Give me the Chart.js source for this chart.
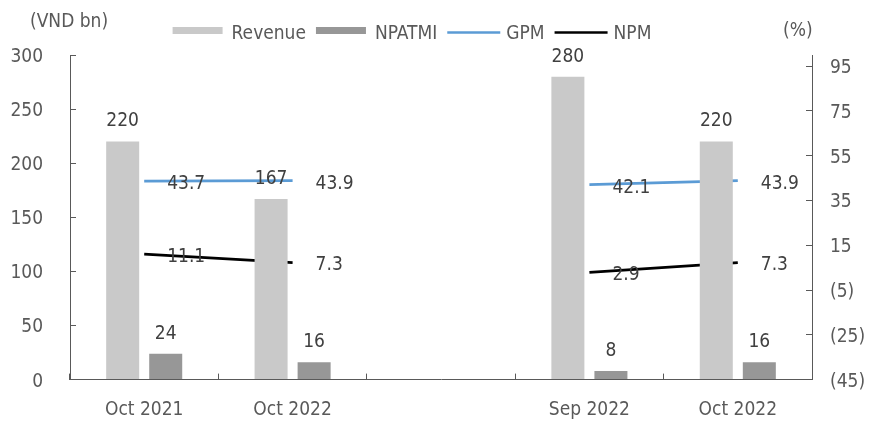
<!DOCTYPE html>
<html>
<head>
<meta charset="utf-8">
<script src="https://cdn.jsdelivr.net/npm/chart.js@4.4.1/dist/chart.umd.min.js"></script>
<style>
  html, body { margin: 0; padding: 0; background: #fff; }
</style>
</head>
<body>
<canvas id="marginChart" width="878" height="424"></canvas>
<script>
// data
const categories = ['Oct 2021', 'Oct 2022', '', 'Sep 2022', 'Oct 2022'];
const revenue = [220, 167, null, 280, 220];
const npatmi = [24, 16, null, 8, 16];
const gpm = [43.7, 43.9, null, 42.1, 43.9];
const npm = [11.1, 7.3, null, 2.9, 7.3];
const leftTicks = [0, 50, 100, 150, 200, 250, 300];
const rightTicks = [-45, -25, -5, 15, 35, 55, 75, 95];
const leftTitle = '(VND bn)';
const rightTitle = '(%)';

const FONT = "'DejaVu Sans Condensed', 'DejaVu Sans', sans-serif";
const AXIS_COLOR = '#595959';

// value labels above bars and to the right of line points
const valueLabels = {
    id: 'valueLabels',
    afterDatasetsDraw(chart) {
        const ctx = chart.ctx;
        ctx.save();
        ctx.font = '19px ' + FONT;
        ctx.fillStyle = '#404040';
        ctx.textBaseline = 'middle';
        chart.data.datasets.forEach((ds, i) => {
            const meta = chart.getDatasetMeta(i);
            meta.data.forEach((el, j) => {
                const v = ds.data[j];
                if (v === null || v === undefined) return;
                if (ds.type === 'line') {
                    ctx.textAlign = 'left';
                    ctx.fillText(v.toFixed(1), el.x + 23, el.y + 3);
                } else {
                    ctx.textAlign = 'center';
                    ctx.fillText(String(v), el.x, el.y - 20);
                }
            });
        });
        ctx.restore();
    }
};

// legend row + axis titles
const legendRow = {
    id: 'legendRow',
    afterDraw(chart) {
        const ctx = chart.ctx;
        ctx.save();
        ctx.font = '19px ' + FONT;
        ctx.textBaseline = 'middle';
        ctx.textAlign = 'left';
        const items = chart.data.datasets.map(ds => ({
            text: ds.label,
            line: ds.type === 'line',
            color: ds.type === 'line' ? ds.borderColor : ds.backgroundColor
        }));
        const swatch = 50, gapText = 9, gapItem = 10;
        let total = 0;
        items.forEach((it, k) => {
            it.w = ctx.measureText(it.text).width;
            total += swatch + gapText + it.w + (k ? gapItem : 0);
        });
        let x = 412 - total / 2;
        const y = 34;
        items.forEach(it => {
            if (it.line) {
                ctx.strokeStyle = it.color;
                ctx.lineWidth = 2.5;
                ctx.beginPath();
                ctx.moveTo(x, y - 1.5);
                ctx.lineTo(x + swatch + 3, y - 1.5);
                ctx.stroke();
            } else {
                ctx.fillStyle = it.color;
                ctx.fillRect(x, y - 7, swatch, 7);
            }
            x += swatch + gapText;
            ctx.fillStyle = AXIS_COLOR;
            ctx.fillText(it.text, x, y);
            x += it.w + gapItem;
        });
        ctx.fillText(leftTitle, 30, 22);
        ctx.fillText(rightTitle, 783, 31);
        ctx.restore();
    }
};

const tickFont = { family: FONT, size: 19 };

const config = {
    type: 'bar',
    data: {
        labels: categories,
        datasets: [
            { type: 'bar', label: 'Revenue', data: revenue, backgroundColor: '#C9C9C9', yAxisID: 'y',
              categoryPercentage: 0.58, barPercentage: 0.767 },
            { type: 'bar', label: 'NPATMI', data: npatmi, backgroundColor: '#979797', yAxisID: 'y',
              categoryPercentage: 0.58, barPercentage: 0.767 },
            { type: 'line', label: 'GPM', data: gpm, borderColor: '#5B9BD5', borderWidth: 2.75,
              pointRadius: 0, yAxisID: 'y1', spanGaps: false },
            { type: 'line', label: 'NPM', data: npm, borderColor: '#000000', borderWidth: 2.75,
              pointRadius: 0, yAxisID: 'y1', spanGaps: false }
        ]
    },
    options: {
        responsive: false,
        animation: false,
        layout: { padding: { top: 55, left: 0, right: 0, bottom: 0 } },
        plugins: {
            legend: { display: false },
            tooltip: { enabled: false }
        },
        scales: {
            x: {
                grid: { drawOnChartArea: false, drawTicks: true, tickLength: -6, color: AXIS_COLOR, offset: true },
                border: { color: AXIS_COLOR, width: 1 },
                ticks: { color: AXIS_COLOR, font: tickFont, padding: 25, autoSkip: false, maxRotation: 0 },
                afterFit(scale) { scale.height = 43; }
            },
            y: {
                position: 'left',
                min: 0,
                max: 300,
                afterBuildTicks(axis) { axis.ticks = leftTicks.map(v => ({ value: v })); },
                grid: { drawOnChartArea: false, tickLength: -6, color: AXIS_COLOR },
                border: { color: AXIS_COLOR, width: 1 },
                ticks: { color: AXIS_COLOR, font: tickFont, padding: 33, labelOffset: 2 },
                afterFit(scale) { scale.width = 70; }
            },
            y1: {
                position: 'right',
                min: -45,
                max: 100,
                afterBuildTicks(axis) { axis.ticks = rightTicks.map(v => ({ value: v })); },
                grid: { drawOnChartArea: false, tickLength: -6, color: AXIS_COLOR },
                border: { color: AXIS_COLOR, width: 1 },
                ticks: {
                    color: AXIS_COLOR, font: tickFont, padding: 24, labelOffset: 2,
                    callback: v => v < 0 ? '(' + (-v) + ')' : String(v)
                },
                afterFit(scale) { scale.width = 66; }
            }
        }
    },
    plugins: [valueLabels, legendRow]
};

const ctx = document.getElementById('marginChart').getContext('2d');
const marginChart = new Chart(ctx, config);
</script>
</body>
</html>
